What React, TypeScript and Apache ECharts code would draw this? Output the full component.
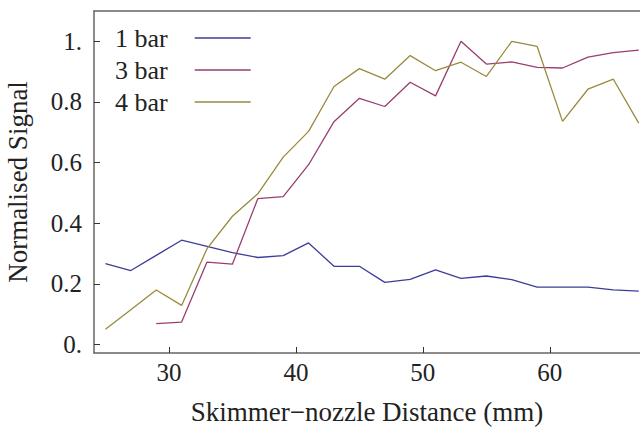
import React, { useEffect, useRef } from "react";
import * as echarts from "echarts";

const distances = [25, 27, 29, 31, 33, 35, 37, 39, 41, 43, 45, 47, 49, 51, 53, 55, 57, 59, 61, 63, 65, 67];
const bar1 = [0.267, 0.244, 0.294, 0.344, 0.324, 0.303, 0.287, 0.293, 0.335, 0.258, 0.258, 0.205, 0.215, 0.246, 0.218, 0.226, 0.214, 0.189, 0.189, 0.189, 0.180, 0.176];
const bar3 = [null, null, 0.069, 0.074, 0.272, 0.265, 0.481, 0.488, 0.593, 0.735, 0.812, 0.785, 0.865, 0.82, 1.0, 0.925, 0.932, 0.914, 0.912, 0.948, 0.963, 0.971];
const bar4 = [0.05, 0.115, 0.18, 0.129, 0.316, 0.423, 0.497, 0.618, 0.703, 0.851, 0.91, 0.875, 0.953, 0.903, 0.931, 0.884, 1.0, 0.983, 0.736, 0.842, 0.875, 0.73];
const seriesNames = ["1 bar", "3 bar", "4 bar"];
const colors = ["#3d3d99", "#993d71", "#998b3d"];
const xTicks = [30, 40, 50, 60];
const yTicks = [0, 0.2, 0.4, 0.6, 0.8, 1.0];

const FONT = "Liberation Serif";

export default function App() {
  const ref = useRef<HTMLDivElement>(null);
  useEffect(() => {
    if (!ref.current) return;
    const chart = echarts.init(ref.current, null, { renderer: "svg" });
    const mk = (vals: (number | null)[]) => distances.map((d, i) => [d, vals[i]]).filter((p) => p[1] !== null);
    const all = [bar1, bar3, bar4];
    chart.setOption({
      animation: false,
      grid: { left: 94, top: 11, right: 0, bottom: 74, containLabel: false, outerBoundsMode: "none" },
      legend: {
        show: true,
        orient: "vertical",
        left: 115,
        top: 25,
        padding: 0,
        align: "right",
        icon: "rect",
        itemWidth: 56,
        itemHeight: 1.3,
        itemGap: 6,
        data: seriesNames,
        textStyle: { fontFamily: FONT, fontSize: 26, color: "#222", padding: [0, 22, 0, 0] },
      },
      xAxis: [
        {
          type: "value",
          min: 24.1,
          max: 67.1,
          splitLine: { show: false },
          axisLine: { show: true, onZero: false, lineStyle: { color: "#666", width: 1.5 } },
          axisTick: { show: true, inside: true, length: 6, customValues: xTicks, lineStyle: { color: "#333", width: 1 } },
          axisLabel: { customValues: xTicks, fontFamily: FONT, fontSize: 25, color: "#222", margin: 7 },
          name: "Skimmer\u2212nozzle Distance (mm)",
          nameLocation: "middle",
          nameGap: 45,
          nameTextStyle: { fontFamily: FONT, fontSize: 27, color: "#222" },
        },
        {
          type: "value",
          position: "top",
          min: 24.1,
          max: 67.1,
          splitLine: { show: false },
          axisLine: { show: true, onZero: false, lineStyle: { color: "#666", width: 1.5 } },
          axisTick: { show: false },
          axisLabel: { show: false },
        },
      ],
      yAxis: {
        type: "value",
        min: -0.028,
        max: 1.1,
        splitLine: { show: false },
        axisLine: { show: true, onZero: false, lineStyle: { color: "#666", width: 1.5 } },
        axisTick: { show: true, inside: true, length: 6, customValues: yTicks, lineStyle: { color: "#333", width: 1 } },
        axisLabel: {
          customValues: yTicks,
          fontFamily: FONT,
          fontSize: 25,
          color: "#222",
          margin: 12,
          formatter: (v: number) => (v === 0 ? "0." : v === 1 ? "1." : v.toFixed(1)),
        },
        name: "Normalised Signal",
        nameLocation: "middle",
        nameGap: 63,
        nameTextStyle: { fontFamily: FONT, fontSize: 27, color: "#222" },
      },
      series: seriesNames.map((n, i) => ({
        name: n,
        type: "line",
        xAxisIndex: 0,
        data: mk(all[i]),
        symbol: "none",
        showSymbol: false,
        color: colors[i],
        lineStyle: { width: 1.3, color: colors[i] },
        itemStyle: { color: colors[i] },
      })),
    });
    return () => chart.dispose();
  }, []);
  return <div ref={ref} style={{ position: "absolute", left: 0, top: 0, width: 640, height: 427 }} />;
}
